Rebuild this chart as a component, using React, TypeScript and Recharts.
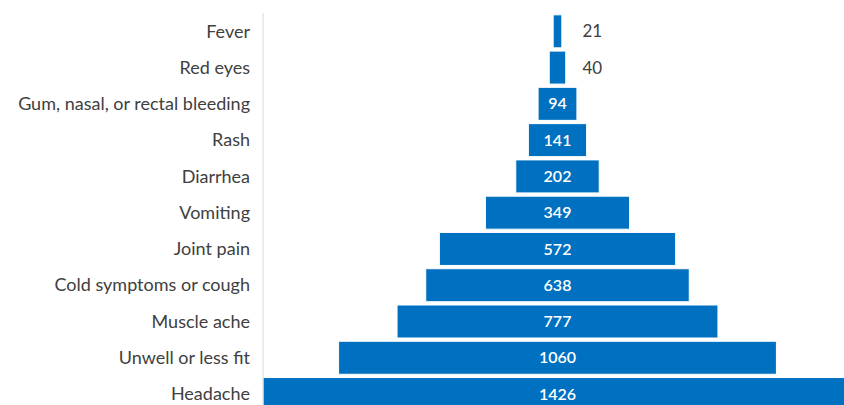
import { BarChart, Bar, XAxis, YAxis, LabelList } from 'recharts'

const symptoms = [
  'Fever',
  'Red eyes',
  'Gum, nasal, or rectal bleeding',
  'Rash',
  'Diarrhea',
  'Vomiting',
  'Joint pain',
  'Cold symptoms or cough',
  'Muscle ache',
  'Unwell or less fit',
  'Headache',
]

const counts = [21, 40, 94, 141, 202, 349, 572, 638, 777, 1060, 1426]

const MAX = Math.max(...counts)

// invisible spacer pushes each bar so they all centre on one line
const data = symptoms.map((name, i) => ({
  name,
  pad: (MAX - counts[i]) / 2,
  count: counts[i],
}))

const FONT = "Lato, 'Open Sans', sans-serif"
const BLUE = '#0070C0'

interface LabelProps {
  x?: number
  y?: number
  width?: number
  height?: number
  value?: number
}

function CountLabel({ x = 0, y = 0, width = 0, height = 0, value = 0 }: LabelProps) {
  const cx = x + width / 2
  const cy = y + height / 2
  if (value < 60) {
    return (
      <text x={cx + 25} y={cy} dy="0.35em" fill="#404040" fontSize={17} fontFamily={FONT}>
        {value}
      </text>
    )
  }
  return (
    <text x={cx} y={cy} dy="0.35em" textAnchor="middle" fill="#fff" fontSize={16} fontWeight={600} fontFamily={FONT}>
      {value}
    </text>
  )
}

export default function App() {
  return (
    <div style={{ position: 'fixed', top: 0, left: 0, width: 844, height: 405, overflow: 'hidden', background: '#fff' }}>
      <BarChart
        width={860}
        height={420}
        data={data}
        layout="vertical"
        barCategoryGap="5%"
        margin={{ top: 13, right: 8, bottom: 8, left: 0 }}
      >
        <XAxis type="number" hide domain={[0, MAX]} />
        <YAxis
          type="category"
          dataKey="name"
          width={263}
          tickLine={false}
          tickSize={6}
          tickMargin={7}
          axisLine={{ stroke: '#d9d9d9' }}
          tick={{ fontSize: 18, fill: '#404040', fontFamily: FONT }}
          interval={0}
        />
        <Bar dataKey="pad" stackId="a" fill="transparent" isAnimationActive={false} />
        <Bar dataKey="count" stackId="a" fill={BLUE} stroke="#fff" strokeWidth={1} isAnimationActive={false}>
          <LabelList dataKey="count" content={<CountLabel />} />
        </Bar>
      </BarChart>
    </div>
  )
}
